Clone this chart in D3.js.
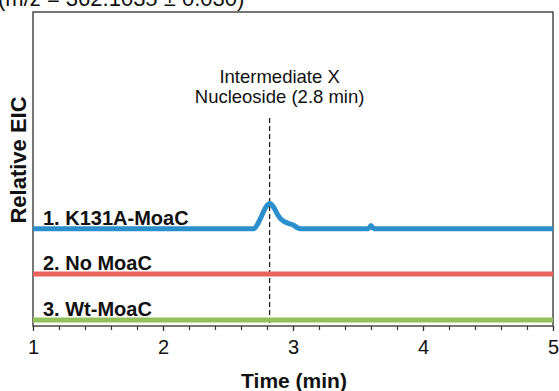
<!DOCTYPE html>
<html>
<head>
<meta charset="utf-8">
<script src="https://cdn.jsdelivr.net/npm/d3@7"></script>
<style>
  body { margin: 0; background: #fff; }
  svg { display: block; font-family: "Liberation Sans", Arial, Helvetica, sans-serif; }
</style>
</head>
<body>
<svg id="eic-chart"></svg>
<script>
// ----- data -----
const trace_names = ["1. K131A-MoaC", "2. No MoaC", "3. Wt-MoaC"];
const trace_colors = ["#2b8fcb", "#e9635b", "#92c15a"];

// Time points (min) and relative EIC for each trace (stacked, arbitrary units 0-100)
const k131a_time = [1.0, 2.70, 2.73, 2.76, 2.79, 2.82, 2.85, 2.88, 2.91, 2.94, 2.97, 3.00, 3.03, 3.06, 3.58, 3.60, 3.62, 5.0];
const k131a_eic  = [31, 31, 32.6, 35.2, 37.8, 39.0, 37.9, 35.6, 33.9, 33.1, 32.6, 32.2, 31.4, 31, 31, 32.0, 31, 31];
const no_moac_time = [1.0, 5.0];
const no_moac_eic  = [16.6, 16.6];
const wt_moac_time = [1.0, 5.0];
const wt_moac_eic  = [1.9, 1.9];

const marker_time = 2.82;
const marker_text = ["Intermediate X", "Nucleoside (2.8 min)"];
const x_ticks = [1, 2, 3, 4, 5];
const header_text = "(m/z = 362.1035 \u00b1 0.030)";

// ----- layout -----
const chart_width = 559, chart_height = 391;
const margins = { top: 12, right: 6, bottom: 65, left: 33 };
const plot_right = chart_width - margins.right;
const plot_bottom = chart_height - margins.bottom;

const svg = d3.select("#eic-chart")
    .attr("width", chart_width)
    .attr("height", chart_height);

// Scales
const x_scale = d3.scaleLinear().domain([1, 5]).range([margins.left, plot_right]);
const y_scale = d3.scaleLinear().domain([0, 100]).range([plot_bottom, margins.top]);

// Header (cut off at the top in the original figure)
svg.append("text")
    .attr("x", -2)
    .attr("y", 6)
    .style("font-size", "22px")
    .style("fill", "#111")
    .text(header_text);

// Frame
svg.append("rect")
    .attr("x", margins.left)
    .attr("y", margins.top)
    .attr("width", plot_right - margins.left)
    .attr("height", plot_bottom - margins.top)
    .style("fill", "none")
    .style("stroke", "#4a4a4a")
    .style("stroke-width", 1.5);

// X axis with minor ticks every 0.2 min
const minor_ticks = d3.range(1, 5.001, 0.2);
svg.append("g")
    .attr("transform", `translate(0, ${plot_bottom})`)
    .call(d3.axisBottom(x_scale).tickValues(minor_ticks).tickSize(4).tickFormat(""))
    .call(g => g.select(".domain").remove())
    .call(g => g.selectAll("line").style("stroke", "#333").style("stroke-width", 1.2));

svg.append("g")
    .attr("transform", `translate(0, ${plot_bottom})`)
    .call(d3.axisBottom(x_scale).tickValues(x_ticks).tickSize(5).tickPadding(9).tickFormat(d3.format("d")))
    .call(g => g.select(".domain").remove())
    .call(g => g.selectAll("line").style("stroke", "#333").style("stroke-width", 1.2))
    .call(g => g.selectAll("text")
        .style("font-size", "20px")
        .style("fill", "#111")
        .style("font-family", "'Liberation Sans', Arial, sans-serif"));

// Axis titles
svg.append("text")
    .attr("x", 294)
    .attr("y", 388)
    .attr("text-anchor", "middle")
    .style("font-size", "21px")
    .style("font-weight", "bold")
    .style("fill", "#111")
    .text("Time (min)");

svg.append("text")
    .attr("transform", `translate(26, 160) rotate(-90)`)
    .attr("text-anchor", "middle")
    .style("font-size", "22px")
    .style("font-weight", "bold")
    .style("fill", "#111")
    .text("Relative EIC");

// Marker line and annotation
svg.append("line")
    .attr("x1", x_scale(marker_time))
    .attr("x2", x_scale(marker_time))
    .attr("y1", 118)
    .attr("y2", plot_bottom)
    .style("stroke", "#222")
    .style("stroke-width", 1.3)
    .style("stroke-dasharray", "5,3");

svg.append("text")
    .attr("y", 83)
    .attr("text-anchor", "middle")
    .style("font-size", "18.5px")
    .style("fill", "#111")
    .selectAll("tspan")
    .data(marker_text)
    .join("tspan")
    .attr("x", x_scale(marker_time) + 10)
    .attr("dy", (d, i) => i === 0 ? 0 : 20)
    .text(d => d);

// Traces
const traces = [
    { name: trace_names[0], color: trace_colors[0], time: k131a_time, eic: k131a_eic },
    { name: trace_names[1], color: trace_colors[1], time: no_moac_time, eic: no_moac_eic },
    { name: trace_names[2], color: trace_colors[2], time: wt_moac_time, eic: wt_moac_eic }
];

const line_gen = d3.line()
    .x(d => x_scale(d[0]))
    .y(d => y_scale(d[1]))
    .curve(d3.curveMonotoneX);

svg.selectAll(".trace")
    .data(traces)
    .join("path")
    .attr("class", "trace")
    .attr("d", d => line_gen(d.time.map((t, i) => [t, d.eic[i]])))
    .style("fill", "none")
    .style("stroke", d => d.color)
    .style("stroke-width", 5)
    .style("stroke-linejoin", "round");

// Trace labels sitting on their baselines
svg.selectAll(".trace-label")
    .data(traces)
    .join("text")
    .attr("class", "trace-label")
    .attr("x", 43)
    .attr("y", d => y_scale(d.eic[0]) - 4)
    .style("font-size", "20px")
    .style("font-weight", "bold")
    .style("fill", "#111")
    .text(d => d.name);
</script>
</body>
</html>
